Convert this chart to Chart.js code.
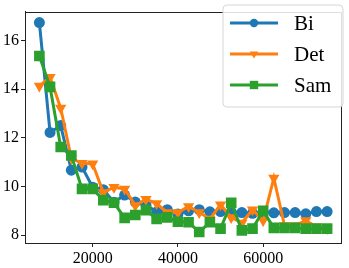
<!DOCTYPE html>
<html>
<head>
<meta charset="utf-8">
<script src="https://cdn.jsdelivr.net/npm/chart.js@4"></script>
<style>
  html, body { margin: 0; padding: 0; background: #fff; }
  #wrap { width: 349px; height: 268px; }
</style>
</head>
<body>
<div id="wrap"><canvas id="chart" width="349" height="268"></canvas></div>
<script>
const xValues = [7500, 10000, 12500, 15000, 17500, 20000, 22500, 25000, 27500, 30000,
    32500, 35000, 37500, 40000, 42500, 45000, 47500, 50000, 52500, 55000,
    57500, 60000, 62500, 65000, 67500, 70000, 72500, 75000];

const biValues = [16.73, 12.22, 12.5, 10.67, 10.8, 9.97, 9.87, 9.35, 9.65, 9.36,
    9.25, 8.95, 9.05, 8.87, 9.0, 9.05, 8.96, 8.97, 8.95, 8.93,
    8.9, 8.95, 8.92, 8.93, 8.93, 8.88, 8.97, 8.97];

const detValues = [14.13, 14.48, 13.22, 11.15, 10.95, 10.93, 9.75, 9.97, 9.9, 9.22,
    9.48, 9.3, 8.93, 8.93, 9.18, 8.93, 8.67, 9.25, 8.73, 8.5,
    9.05, 8.6, 10.35, 8.4, 8.4, 8.6, 8.35, 8.28];

const samValues = [15.36, 14.09, 11.62, 11.27, 9.9, 9.9, 9.44, 9.33, 8.71, 8.83,
    9.03, 8.67, 8.73, 8.55, 8.53, 8.13, 8.53, 8.27, 9.33, 8.2,
    8.27, 9.0, 8.3, 8.3, 8.3, 8.27, 8.27, 8.27];

const xTicks = [20000, 40000, 60000];
const yTicks = [8, 10, 12, 14, 16];
const seriesNames = ["Bi", "Det", "Sam"];

const BLUE = "#1f77b4";
const ORANGE = "#ff7f0e";
const GREEN = "#2ca02c";
const FONT = "'Liberation Serif', 'DejaVu Serif', serif";

function toPoints(values) {
    return values.map((v, i) => ({ x: xValues[i], y: v }));
}

// small marker helper, used for the legend
function drawMarker(ctx, style, x, y, r, color) {
    ctx.save();
    ctx.fillStyle = color;
    ctx.beginPath();
    if (style === "circle") {
        ctx.arc(x, y, r, 0, Math.PI * 2);
    } else if (style === "rect") {
        ctx.rect(x - r, y - r, r * 2, r * 2);
    } else {
        // downward triangle
        ctx.moveTo(x - r, y - r * 0.6);
        ctx.lineTo(x + r, y - r * 0.6);
        ctx.lineTo(x, y + r * 1.1);
        ctx.closePath();
    }
    ctx.fill();
    ctx.restore();
}

const framePlugin = {
    id: "frame",
    afterDatasetsDraw(chart) {
        const { ctx, chartArea } = chart;
        ctx.save();
        ctx.strokeStyle = "#222";
        ctx.lineWidth = 1;
        ctx.strokeRect(Math.round(chartArea.left) + 0.5, Math.round(chartArea.top) + 0.5,
            Math.round(chartArea.right - chartArea.left) - 1, Math.round(chartArea.bottom - chartArea.top));
        ctx.restore();
    }
};

const legendPlugin = {
    id: "mplLegend",
    afterDraw(chart) {
        const ctx = chart.ctx;
        const left = 223, top = 5, w = 120, h = 102, rad = 4;
        ctx.save();
        ctx.beginPath();
        ctx.moveTo(left + rad, top);
        ctx.lineTo(left + w - rad, top);
        ctx.quadraticCurveTo(left + w, top, left + w, top + rad);
        ctx.lineTo(left + w, top + h - rad);
        ctx.quadraticCurveTo(left + w, top + h, left + w - rad, top + h);
        ctx.lineTo(left + rad, top + h);
        ctx.quadraticCurveTo(left, top + h, left, top + h - rad);
        ctx.lineTo(left, top + rad);
        ctx.quadraticCurveTo(left, top, left + rad, top);
        ctx.closePath();
        ctx.fillStyle = "rgba(255,255,255,0.85)";
        ctx.fill();
        ctx.strokeStyle = "#d6d6d6";
        ctx.lineWidth = 1;
        ctx.stroke();

        const rows = [23, 54, 85];
        const styles = ["circle", "triangle", "rect"];
        const colors = [BLUE, ORANGE, GREEN];
        rows.forEach((y, i) => {
            ctx.strokeStyle = colors[i];
            ctx.lineWidth = 3;
            ctx.beginPath();
            ctx.moveTo(230, y);
            ctx.lineTo(278, y);
            ctx.stroke();
            drawMarker(ctx, styles[i], 254, y, 4.2, colors[i]);
            ctx.fillStyle = "#000";
            ctx.font = "21px " + FONT;
            ctx.textBaseline = "middle";
            ctx.textAlign = "left";
            ctx.fillText(seriesNames[i], 294, y + 1);
        });
        ctx.restore();
    }
};

const ctx = document.getElementById("chart").getContext("2d");

new Chart(ctx, {
    type: "line",
    data: {
        datasets: [
            {
                label: seriesNames[0],
                data: toPoints(biValues),
                borderColor: BLUE,
                backgroundColor: BLUE,
                borderWidth: 3,
                pointStyle: "circle",
                pointRadius: 5.5,
                pointBorderWidth: 0,
                tension: 0,
                order: 3
            },
            {
                label: seriesNames[1],
                data: toPoints(detValues),
                borderColor: ORANGE,
                backgroundColor: ORANGE,
                borderWidth: 3,
                pointStyle: "triangle",
                pointRotation: 180,
                pointRadius: 6.5,
                pointBorderWidth: 0,
                tension: 0,
                order: 2
            },
            {
                label: seriesNames[2],
                data: toPoints(samValues),
                borderColor: GREEN,
                backgroundColor: GREEN,
                borderWidth: 3,
                pointStyle: "rect",
                pointRadius: 7.5,
                pointBorderWidth: 0,
                tension: 0,
                order: 1
            }
        ]
    },
    options: {
        responsive: false,
        animation: false,
        layout: { padding: { left: 0, right: 6, top: 5, bottom: 0 } },
        plugins: {
            legend: { display: false },
            tooltip: { enabled: false }
        },
        scales: {
            x: {
                type: "linear",
                min: 4125,
                max: 78375,
                afterBuildTicks: axis => { axis.ticks = xTicks.map(v => ({ value: v })); },
                afterFit: axis => { axis.height = 25; },
                grid: { display: true, drawOnChartArea: false, drawTicks: true, tickLength: 4, color: "#222" },
                border: { display: true, color: "#222", width: 1 },
                ticks: {
                    color: "#000",
                    padding: 2,
                    maxRotation: 0,
                    font: { family: FONT, size: 16 },
                    callback: v => String(v)
                }
            },
            y: {
                type: "linear",
                min: 7.68,
                max: 17.18,
                afterBuildTicks: axis => { axis.ticks = yTicks.map(v => ({ value: v })); },
                afterFit: axis => { axis.width = 25; },
                grid: { display: true, drawOnChartArea: false, drawTicks: true, tickLength: 4, color: "#222" },
                border: { display: true, color: "#222", width: 1 },
                ticks: {
                    color: "#000",
                    padding: 2,
                    font: { family: FONT, size: 16 },
                    callback: v => String(v)
                }
            }
        }
    },
    plugins: [framePlugin, legendPlugin]
});
</script>
</body>
</html>
